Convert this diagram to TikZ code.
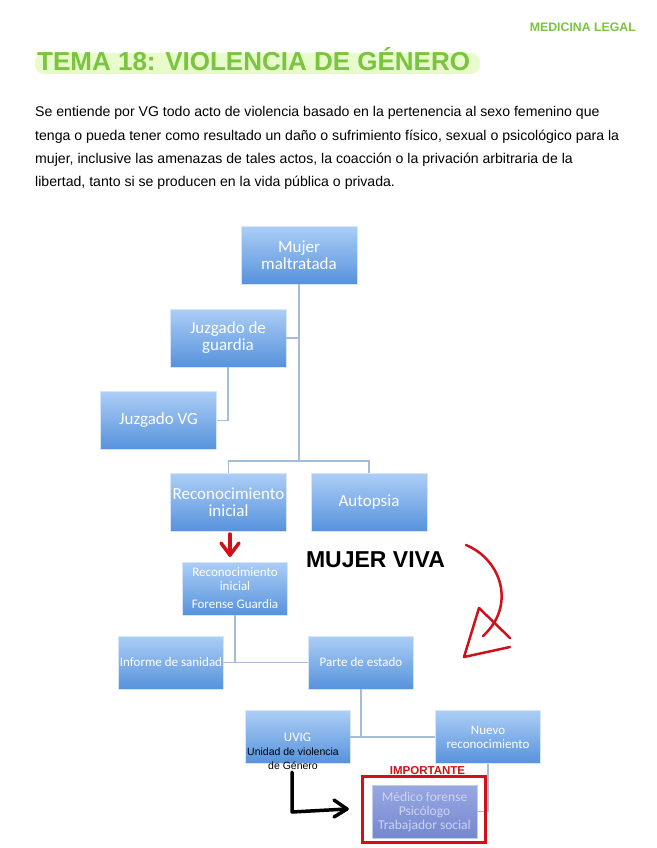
\documentclass[tikz,border=0pt]{standalone}
\usepackage{fontspec}
\setmainfont{Liberation Sans}
\newfontfamily\calib{Carlito}
\usetikzlibrary{shadows}

\definecolor{verdetit}{RGB}{122,196,64}
\definecolor{verdeev}{RGB}{232,251,202}
\definecolor{bluchiaro}{RGB}{172,206,246}
\definecolor{bluscuro}{RGB}{86,146,220}
\definecolor{linea}{RGB}{165,188,216}
\definecolor{rosso}{RGB}{208,16,27}
\definecolor{violachiaro}{RGB}{152,168,226}
\definecolor{violascuro}{RGB}{116,136,206}
\definecolor{testoviola}{RGB}{205,212,246}

\begin{document}
\begin{tikzpicture}[x=1pt, y=-1pt, >=stealth]
% Stili dei riquadri e dei collegamenti
\tikzset{box/.style={top color=bluchiaro, bottom color=bluscuro, draw=bluchiaro!50!white, text=white, align=center, inner sep=0pt, minimum width=116pt, minimum height=58pt, drop shadow={opacity=0.2, shadow xshift=0.8pt, shadow yshift=-0.8pt}, font=\calib\fontsize{17}{17}\selectfont}}
\tikzset{boxp/.style={box, minimum width=105pt, minimum height=53pt, font=\calib\fontsize{13}{14}\selectfont}}
\tikzset{conn/.style={draw=linea, line width=1.2pt}}
\tikzset{mano/.style={line width=3pt, line cap=round, line join=round}}

% Area della pagina
\useasboundingbox (0,0) rectangle (656,848);

% --- INTESTAZIONE ---
\node[anchor=east, inner sep=0pt, text=verdetit, font=\bfseries\fontsize{12.3}{14}\selectfont] (ML) at (636,27.5) {MEDICINA LEGAL};
\fill[verdeev, rounded corners=9pt] (35,53) rectangle (480,74);
\node[anchor=base west, inner sep=0pt, text=verdetit, font=\bfseries\fontsize{26}{28}\selectfont] (T) at (37,71) {TEMA 18: VIOLENCIA DE GÉNERO};

% --- TESTO ---
\node[anchor=base west, inner sep=0pt, font=\fontsize{14.1}{23}\selectfont] (P1) at (35,117) {Se entiende por VG todo acto de violencia basado en la pertenencia al sexo femenino que};
\node[anchor=base west, inner sep=0pt, font=\fontsize{14.1}{23}\selectfont] (P2) at (35,140) {tenga o pueda tener como resultado un daño o sufrimiento físico, sexual o psicológico para la};
\node[anchor=base west, inner sep=0pt, font=\fontsize{14.1}{23}\selectfont] (P3) at (35,163) {mujer, inclusive las amenazas de tales actos, la coacción o la privación arbitraria de la};
\node[anchor=base west, inner sep=0pt, font=\fontsize{14.1}{23}\selectfont] (P4) at (35,186) {libertad, tanto si se producen en la vida pública o privada.};

% --- SCHEMA ---
\node[box] (M) at (299,255) {Mujer\\maltratada};
\node[box] (JG) at (228,338) {Juzgado de\\guardia};
\node[box] (JV) at (158.5,420.5) {Juzgado VG};
\node[box] (RI) at (228.5,502.5) {Reconocimiento\\inicial};
\node[box] (AU) at (369,502.5) {Autopsia};

\node[boxp] (RF) at (235,588.5) {Reconocimiento\\inicial\\[4pt]Forense Guardia};
\node[boxp] (IS) at (171,662.5) {Informe de sanidad};
\node[boxp] (PE) at (361,662.5) {Parte de estado};
\node[boxp] (UV) at (297.5,737) {UVIG};
\node[boxp] (NR) at (488,737) {Nuevo\\reconocimiento};

% Collegamenti
\coordinate (Mbar) at (299,461);
\draw[conn] (M.south) -- (Mbar);
\draw[conn] (JG.east) -- (JG.east -| M.south);
\draw[conn] (JG.south) |- (JV.east);
\draw[conn] (RI.north) |- (Mbar) -| (AU.north);
\draw[conn] (RF.south) |- (IS.east);
\draw[conn] (IS.east) -- (PE.west);
\draw[conn] (PE.south) |- (UV.east);
\draw[conn] (UV.east) -- (NR.west);

% Riquadro finale evidenziato
\node[box, top color=violachiaro, bottom color=violascuro, draw=violachiaro!60!white, text=testoviola, minimum width=105pt, minimum height=53pt, font=\calib\fontsize{13.5}{14}\selectfont] (MF) at (424.5,811.5) {Médico forense\\Psicólogo\\Trabajador social};
\draw[conn] (NR.south) |- (MF.east);
\node[draw=rosso, line width=3pt, inner sep=0pt, minimum width=123pt, minimum height=66pt] (RQ) at (424,809.5) {};
\node[inner sep=0pt, text=rosso, font=\bfseries\fontsize{11.5}{12}\selectfont] (IMP) at (427.5,771) {IMPORTANTE};

% --- NOTE A MANO ---
\node[inner sep=0pt, font=\bfseries\fontsize{23}{25}\selectfont] (MV) at (375.5,560) {MUJER VIVA};
\node[inner sep=0pt, align=center, font=\fontsize{10.5}{14}\selectfont] (UT) at (293,759) {Unidad de violencia\\de Género};

% freccia rossa sotto Reconocimiento inicial
\coordinate (RA) at (230,534);
\coordinate (RB) at (230,555);
\draw[mano, rosso, line width=3.5pt] (RA) -- (RB);
\draw[mano, rosso, line width=3.5pt] (221,543) -- (RB) -- (239,543);

% freccia rossa curva
\coordinate (CA) at (466,545);
\coordinate (CB) at (483,636);
\draw[mano, rosso, line width=2.5pt] (CA) .. controls (502,560) and (516,606) .. (CB);
\draw[mano, rosso, line width=2.5pt] (510,638) -- (479,608) -- (464,657) -- (510,647);

% freccia nera verso il riquadro finale
\coordinate (NA) at (292,772);
\coordinate (NB) at (292,812);
\coordinate (NC) at (347,809);
\draw[mano, line width=3.5pt] (NA) -- (NB) -- (NC);
\draw[mano, line width=3.5pt] (334,800) -- (NC) -- (334,817);

\end{tikzpicture}
\end{document}
